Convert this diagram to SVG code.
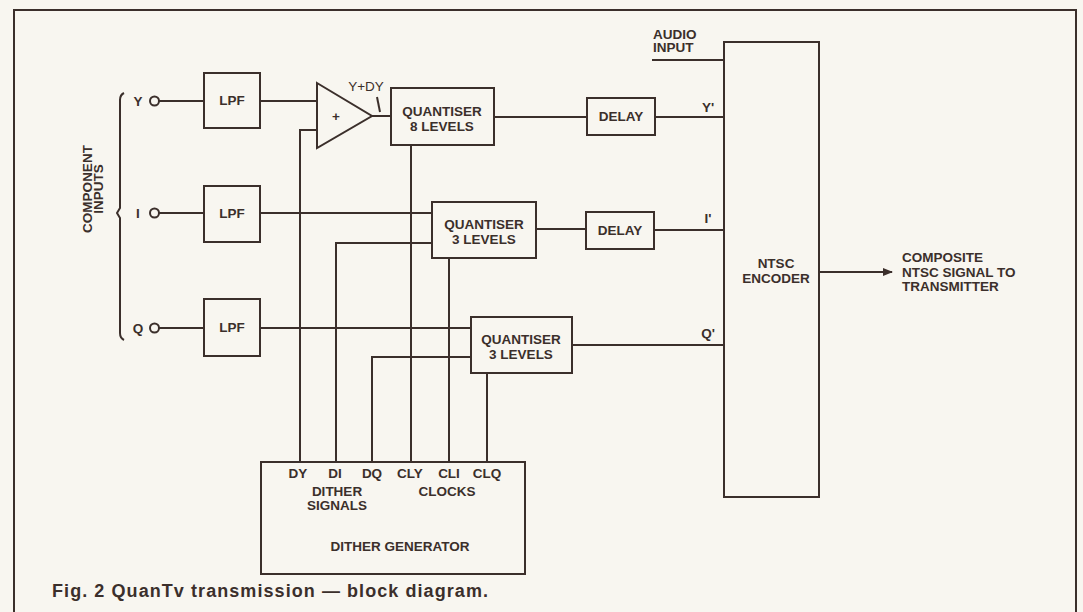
<svg xmlns="http://www.w3.org/2000/svg" width="1083" height="612" viewBox="0 0 1083 612">
<style>
.ln{stroke:#3b2f2b;stroke-width:2;fill:none}
.bx{stroke:#3b2f2b;stroke-width:2;fill:#f8f6f0}
.t{font-family:"Liberation Sans",Arial,sans-serif;font-size:13.5px;font-weight:bold;fill:#3b2f2b}
.m{text-anchor:middle}
</style>
<defs>
<marker id="ah" markerWidth="10" markerHeight="8" refX="9" refY="4" orient="auto" markerUnits="userSpaceOnUse">
<path d="M0,0 L10,4 L0,8 Z" fill="#3b2f2b"/>
</marker>
</defs>
<rect x="0" y="0" width="1083" height="612" fill="#f8f6f0"/>
<path class="ln" d="M14,612 V10 H1076 V612"/>

<g id="connectors">
<path class="ln" d="M159,101 H204 M260,101 H317 M159,213 H204 M260,213 H432 M159,328 H204 M260,328 H471"/>
<path class="ln" d="M372,116 H391 M494,117 H587 M655,117 H724 M536,229 H586 M654,230 H724 M572,345 H724 M652,60 H724"/>
<path class="ln" d="M317,130 H300 V462 M432,243 H336 V462 M471,357 H372 V462 M411,145 V462 M449,258 V462 M487,373 V462"/>
<path class="ln" d="M377,97 L380,112" stroke-width="1.2"/>
<path class="ln" d="M819,272 H892" marker-end="url(#ah)"/>
<path class="ln" d="M124,93 Q120,95 120,100 V208 L117,213 L120,218 V333 Q120,338 124,340"/>
</g>

<g id="inputs">
<text class="t m" x="138" y="106">Y</text>
<circle cx="154.5" cy="101" r="4.5" class="bx"/>
<text class="t m" x="138" y="218">I</text>
<circle cx="154.5" cy="213" r="4.5" class="bx"/>
<text class="t m" x="138" y="333">Q</text>
<circle cx="154.5" cy="328" r="4.5" class="bx"/>
<text class="t m" transform="translate(92,189) rotate(-90)">COMPONENT</text>
<text class="t m" transform="translate(103,189) rotate(-90)">INPUTS</text>
</g>

<g id="lpf-y"><rect class="bx" x="204" y="73" width="56" height="55"/><text class="t m" x="232" y="105">LPF</text></g>
<g id="lpf-i"><rect class="bx" x="204" y="186" width="56" height="56"/><text class="t m" x="232" y="218">LPF</text></g>
<g id="lpf-q"><rect class="bx" x="204" y="299" width="56" height="57"/><text class="t m" x="232" y="332">LPF</text></g>

<g id="adder">
<path class="bx" d="M317,83 L372,116 L317,148 Z"/>
<text class="t m" x="336" y="121">+</text>
<text class="t m" x="366" y="91" style="font-weight:normal">Y+DY</text>
</g>

<g id="quantiser-y"><rect class="bx" x="391" y="88" width="103" height="57"/>
<text class="t m" x="442" y="116">QUANTISER</text><text class="t m" x="442" y="131">8 LEVELS</text></g>
<g id="quantiser-i"><rect class="bx" x="432" y="202" width="104" height="56"/>
<text class="t m" x="484" y="229">QUANTISER</text><text class="t m" x="484" y="244">3 LEVELS</text></g>
<g id="quantiser-q"><rect class="bx" x="471" y="317" width="101" height="56"/>
<text class="t m" x="521" y="344">QUANTISER</text><text class="t m" x="521" y="359">3 LEVELS</text></g>

<g id="delay-y"><rect class="bx" x="587" y="98" width="68" height="37"/><text class="t m" x="621" y="121">DELAY</text></g>
<g id="delay-i"><rect class="bx" x="586" y="212" width="68" height="37"/><text class="t m" x="620" y="235">DELAY</text></g>

<g id="labels">
<text class="t m" x="708" y="112">Y'</text>
<text class="t m" x="708" y="223">I'</text>
<text class="t m" x="708" y="338">Q'</text>
<text class="t" x="653" y="39">AUDIO</text>
<text class="t" x="653" y="52">INPUT</text>
<text class="t" x="902" y="262">COMPOSITE</text>
<text class="t" x="902" y="277">NTSC SIGNAL TO</text>
<text class="t" x="902" y="291">TRANSMITTER</text>
</g>

<g id="ntsc-encoder"><rect class="bx" x="724" y="42" width="95" height="455"/>
<text class="t m" x="776" y="268">NTSC</text><text class="t m" x="776" y="283">ENCODER</text></g>

<g id="dither-generator"><rect class="bx" x="261" y="462" width="264" height="112"/>
<text class="t m" x="298" y="478">DY</text>
<text class="t m" x="335" y="478">DI</text>
<text class="t m" x="372" y="478">DQ</text>
<text class="t m" x="410" y="478">CLY</text>
<text class="t m" x="449" y="478">CLI</text>
<text class="t m" x="487" y="478">CLQ</text>
<text class="t m" x="337" y="496">DITHER</text>
<text class="t m" x="337" y="510">SIGNALS</text>
<text class="t m" x="447" y="496">CLOCKS</text>
<text class="t m" x="400" y="551">DITHER GENERATOR</text>
</g>

<text class="t" x="52" y="597" style="font-size:18px" textLength="436" lengthAdjust="spacing">Fig. 2 QuanTv transmission — block diagram.</text>
</svg>
